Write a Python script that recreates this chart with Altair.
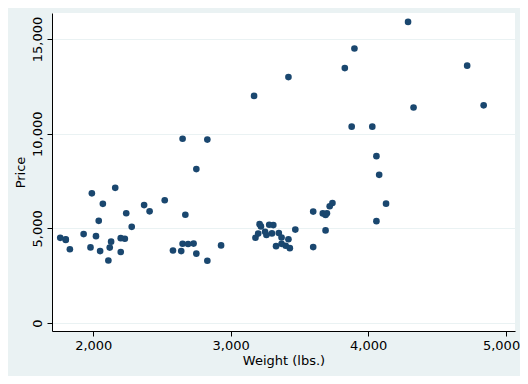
import altair as alt
import pandas as pd

weight = [2930, 3350, 2640, 3250, 4080, 3670, 2230, 3280, 3880, 3400,
          4330, 3900, 4290, 2110, 3690, 3180, 3220, 2750, 3430, 2120,
          3600, 3600, 3740, 1800, 2650, 4840, 4720, 3830, 2580, 4060,
          3720, 3370, 4130, 2830, 4060, 3310, 3300, 3690, 3370, 2730,
          4030, 3260, 1800, 2200, 2520, 3330, 3700, 3470, 3210, 3200,
          3420, 2690, 2830, 2070, 2650, 2370, 2020, 2280, 2750, 2130,
          2240, 1760, 1980, 3420, 1830, 2050, 2410, 2200, 2670, 2160,
          2040, 1930, 1990, 3170]
price = [4099, 4749, 3799, 4816, 7827, 5788, 4453, 5189, 10372, 4082,
         11385, 14500, 15906, 3299, 5705, 4504, 5104, 3667, 3955, 3984,
         4010, 5886, 6342, 4389, 4187, 11497, 13594, 13466, 3829, 5379,
         6165, 4516, 6303, 3291, 8814, 5172, 4733, 4890, 4181, 4195,
         10371, 4647, 4425, 4482, 6486, 4060, 5798, 4934, 5222, 4723,
         4424, 4172, 9690, 6295, 9735, 6229, 4589, 5079, 8129, 4296,
         5799, 4499, 3995, 12990, 3895, 3798, 5899, 3748, 5719, 7140,
         5397, 4697, 6850, 11995]

x_ticks = [2000, 3000, 4000, 5000]
y_ticks = [0, 5000, 10000, 15000]

df = pd.DataFrame({"weight": weight, "price": price})

chart = alt.Chart(df).mark_circle(size=44, opacity=1, color="#1A476F").encode(
    x=alt.X("weight:Q", title="Weight (lbs.)",
            scale=alt.Scale(domain=[1700, 5068], nice=False, zero=False),
            axis=alt.Axis(values=x_ticks, format=",.0f", grid=False,
                          tickSize=5, labelPadding=3, titlePadding=2,
                          labelFlush=12, labelFlushOffset=14,
                          labelBound=False, labelOverlap=False)),
    y=alt.Y("price:Q", title="Price",
            scale=alt.Scale(domain=[-422, 16375], nice=False, zero=False),
            axis=alt.Axis(values=y_ticks, format=",.0f", grid=True,
                          gridColor="#EAF2F3", gridWidth=1,
                          tickSize=5, labelAngle=270, labelAlign="center",
                          labelBaseline="bottom", labelPadding=3,
                          titlePadding=4, labelOverlap=False)),
).properties(
    width=463, height=318,
    autosize=alt.AutoSizeParams(type="none"),
    padding={"left": 44, "top": 5, "right": 5, "bottom": 45},
    background="#EAF2F3",
).configure_view(
    fill="white", stroke=None
).configure_axis(
    labelFont="DejaVu Sans", titleFont="DejaVu Sans",
    labelFontSize=13, titleFontSize=13, titleFontWeight="normal",
    labelColor="#000000", titleColor="#000000",
    domainColor="#000000", tickColor="#000000",
    domainWidth=1, tickWidth=1,
)

chart.save("out.html", embed_options={"renderer": "svg", "actions": False})
